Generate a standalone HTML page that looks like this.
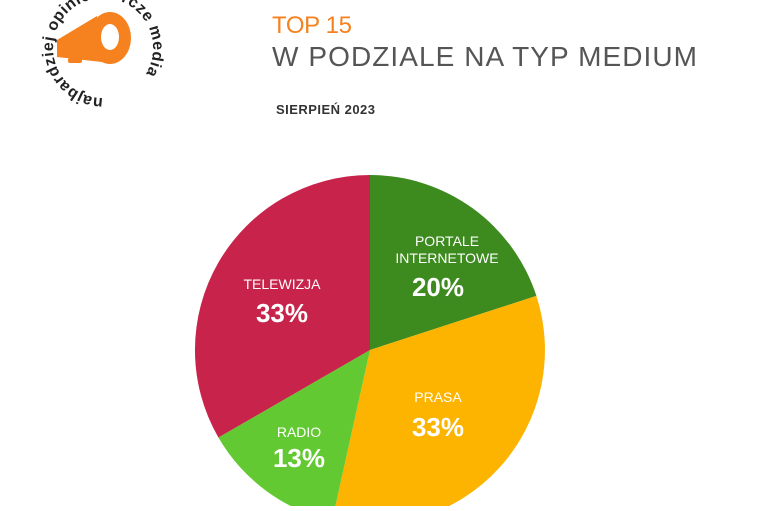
<!DOCTYPE html>
<html><head><meta charset="utf-8"><style>
body{margin:0;width:760px;height:506px;overflow:hidden;background:#fff;font-family:"Liberation Sans",sans-serif}
</style></head><body>
<svg width="760" height="506" viewBox="0 0 760 506" xmlns="http://www.w3.org/2000/svg">
<defs><path id="c" d="M103,98 A50,50 0 1,1 103.1,98"/></defs>
<text font-size="16" font-weight="bold" fill="#222"><textPath href="#c" textLength="262" lengthAdjust="spacing">najbardziej opiniotwórcze media</textPath></text>
<g fill="#f5821f">
<polygon points="57,40 97,16 102,62 57,57"/>
<ellipse cx="110" cy="38" rx="21" ry="26"/>
<rect x="68" y="58" width="14" height="5" rx="2"/>
</g>
<ellipse cx="110" cy="37" rx="9" ry="13" fill="#fff"/>
<text x="272" y="33" font-size="24" fill="#f5821f" textLength="80">TOP 15</text>
<text x="272" y="66" font-size="28" fill="#555" textLength="425" lengthAdjust="spacing">W PODZIALE NA TYP MEDIUM</text>
<text x="276" y="114" font-size="13" font-weight="bold" fill="#333" textLength="99">SIERPIEŃ 2023</text>
<g transform="translate(370,350)">
<path d="M0,0 L0,-175 A175,175 0 0,1 166.4,-54.1 Z" fill="#3d8a1f"/>
<path d="M0,0 L166.4,-54.1 A175,175 0 0,1 -37.9,170.8 Z" fill="#fdb400"/>
<path d="M0,0 L-37.9,170.8 A175,175 0 0,1 -151.6,87.5 Z" fill="#63c932"/>
<path d="M0,0 L-151.6,87.5 A175,175 0 0,1 0,-175 Z" fill="#c8234a"/>
</g>
<g fill="#fff" text-anchor="middle" font-family="Liberation Sans,sans-serif">
<text x="447" y="246" font-size="14">PORTALE</text>
<text x="447" y="263" font-size="14">INTERNETOWE</text>
<text x="438" y="296" font-size="26" font-weight="bold">20%</text>
<text x="282" y="289" font-size="14">TELEWIZJA</text>
<text x="282" y="322" font-size="26" font-weight="bold">33%</text>
<text x="438" y="402" font-size="14">PRASA</text>
<text x="438" y="436" font-size="26" font-weight="bold">33%</text>
<text x="299" y="437" font-size="14">RADIO</text>
<text x="299" y="467" font-size="26" font-weight="bold">13%</text>
</g>
</svg>
</body></html>
